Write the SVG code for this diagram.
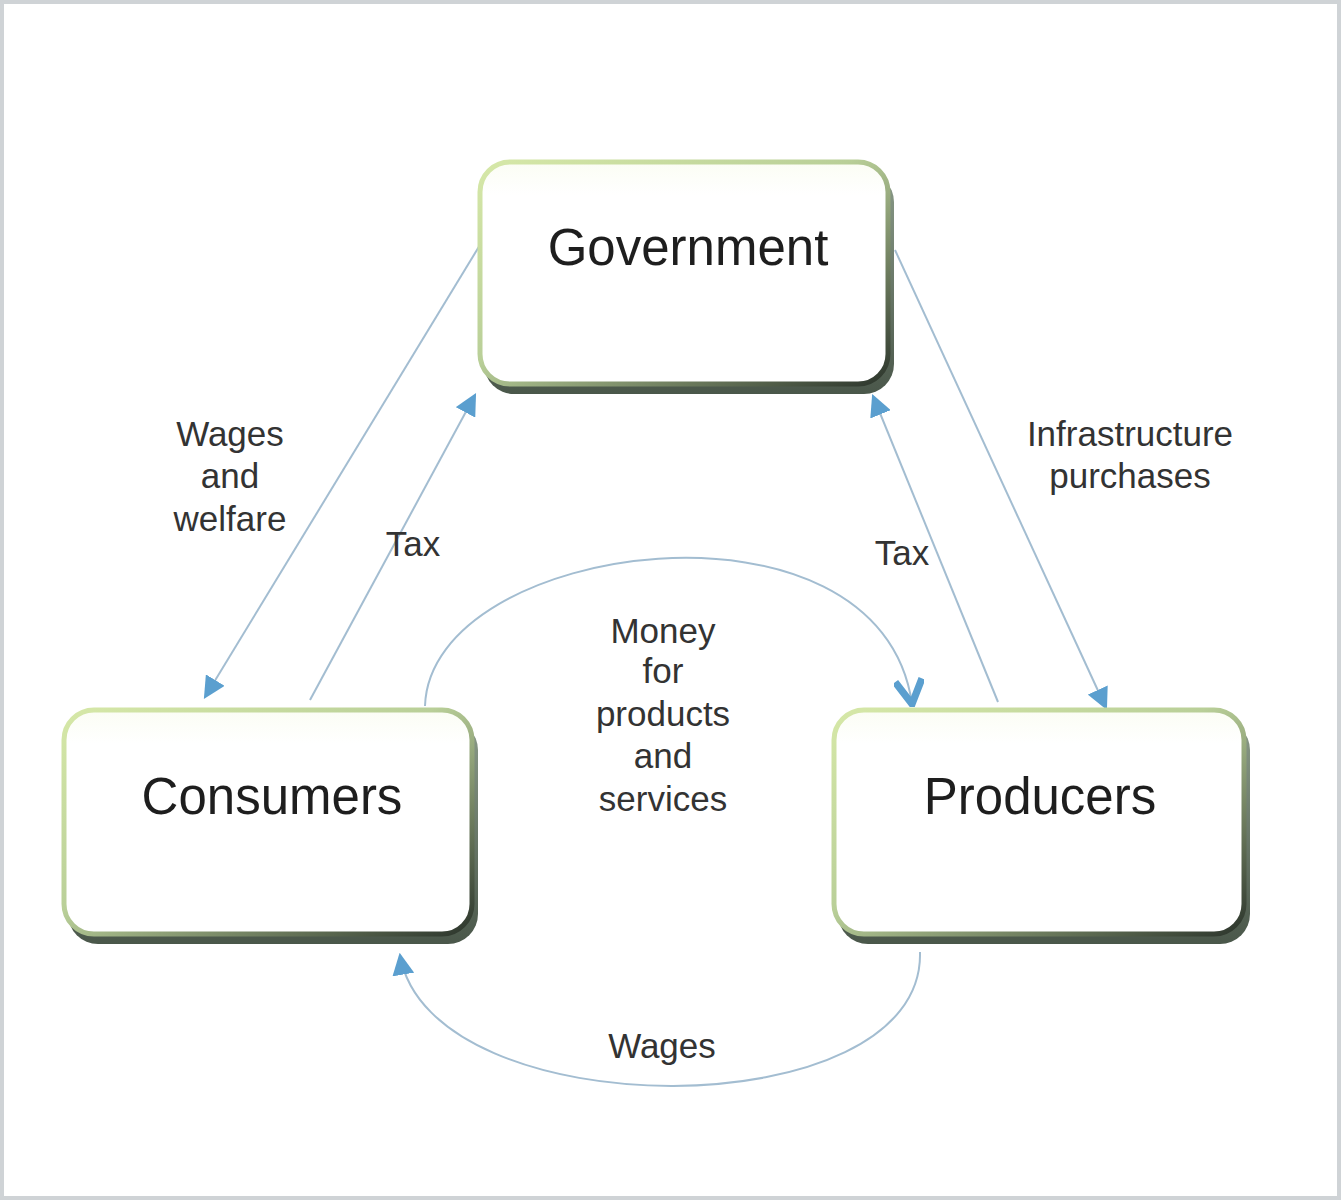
<svg xmlns="http://www.w3.org/2000/svg" width="1341" height="1200" viewBox="0 0 1341 1200">
<defs>
<linearGradient id="edge" x1="0" y1="0" x2="1" y2="1">
<stop offset="0" stop-color="#d6e8a8"/>
<stop offset="0.45" stop-color="#b9cf98"/>
<stop offset="1" stop-color="#2c352c"/>
</linearGradient>
<linearGradient id="shade" x1="0" y1="0" x2="0" y2="1">
<stop offset="0" stop-color="#8a9a88"/>
<stop offset="1" stop-color="#4a574a"/>
</linearGradient>
<linearGradient id="face" x1="0" y1="0" x2="0" y2="1">
<stop offset="0" stop-color="#fbfdf4"/>
<stop offset="0.15" stop-color="#ffffff"/>
<stop offset="1" stop-color="#ffffff"/>
</linearGradient>
<marker id="tri" viewBox="0 0 10 10" refX="9" refY="5" markerWidth="22" markerHeight="22" markerUnits="userSpaceOnUse" orient="auto">
<path d="M0,0 L10,5 L0,10 z" fill="#5b9fcf"/>
</marker>
<marker id="vee" viewBox="0 0 10 10" refX="9" refY="5" markerWidth="30" markerHeight="30" markerUnits="userSpaceOnUse" orient="auto">
<path d="M1,0.5 L9,5 L1,9.5" fill="none" stroke="#5b9fcf" stroke-width="2.4"/>
</marker>
</defs>
<style>
.box{fill:url(#face);stroke:url(#edge);stroke-width:5}
.sh{fill:url(#shade)}
.lbl{font-family:"Liberation Sans",Arial,sans-serif;font-size:51px;fill:#1e1e1e;text-anchor:middle}
.t{font-family:"Liberation Sans",Arial,sans-serif;font-size:35px;fill:#333;text-anchor:middle}
.ln{fill:none;stroke:#a3bdd1;stroke-width:2}
</style>
<rect x="0" y="0" width="1341" height="1200" fill="#ffffff"/>
<rect x="2" y="2" width="1337" height="1196" fill="none" stroke="#cfd3d6" stroke-width="4"/>

<g id="connectors">
<line class="ln" x1="483" y1="240" x2="205" y2="697" marker-end="url(#tri)"/>
<line class="ln" x1="310" y1="700" x2="475" y2="395" marker-end="url(#tri)"/>
<line class="ln" x1="998" y1="702" x2="873" y2="396" marker-end="url(#tri)"/>
<line class="ln" x1="895" y1="250" x2="1106" y2="708" marker-end="url(#tri)"/>
<path class="ln" d="M425 706 C430 540 880 480 912 704" marker-end="url(#vee)"/>
<path class="ln" d="M920 952 C925 1130 430 1130 400 955" marker-end="url(#tri)"/>
<text class="t" x="230" y="446">Wages</text>
<text class="t" x="230" y="488">and</text>
<text class="t" x="230" y="531">welfare</text>
<text class="t" x="413" y="556">Tax</text>
<text class="t" x="902" y="565">Tax</text>
<text class="t" x="1130" y="446">Infrastructure</text>
<text class="t" x="1130" y="488">purchases</text>
<text class="t" x="663" y="643">Money</text>
<text class="t" x="663" y="683">for</text>
<text class="t" x="663" y="726">products</text>
<text class="t" x="663" y="768">and</text>
<text class="t" x="663" y="811">services</text>
<text class="t" x="662" y="1058">Wages</text>
</g>

<g id="government">
<rect class="sh" x="484" y="172" width="410" height="222" rx="30"/>
<rect class="box" x="480" y="162" width="408" height="222" rx="30"/>
<text class="lbl" x="688" y="265">Government</text>
</g>
<g id="consumers">
<rect class="sh" x="68" y="720" width="410" height="224" rx="30"/>
<rect class="box" x="64" y="710" width="408" height="224" rx="30"/>
<text class="lbl" x="272" y="814">Consumers</text>
</g>
<g id="producers">
<rect class="sh" x="838" y="720" width="412" height="224" rx="30"/>
<rect class="box" x="834" y="710" width="410" height="224" rx="30"/>
<text class="lbl" x="1040" y="814">Producers</text>
</g>
</svg>
